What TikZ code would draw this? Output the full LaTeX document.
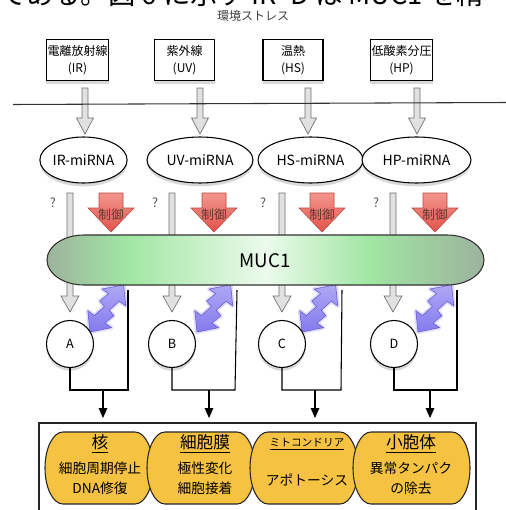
\documentclass[tikz,border=0pt]{standalone}
\usepackage{fontspec}
\setmainfont{Noto Sans CJK JP}
\usetikzlibrary{shapes.geometric,shadows,arrows.meta}
\definecolor{mgray}{RGB}{158,178,158}
\definecolor{mgreen}{RGB}{160,230,162}
\definecolor{mwhite}{RGB}{236,250,236}
\definecolor{redtop}{RGB}{242,150,140}
\definecolor{redbot}{RGB}{226,82,76}
\definecolor{redline}{RGB}{185,70,62}
\definecolor{purp}{RGB}{132,122,238}
\definecolor{purpline}{RGB}{98,88,205}
\definecolor{garrowfill}{RGB}{225,225,225}
\definecolor{garrowline}{RGB}{110,110,110}
\definecolor{capfill}{RGB}{245,194,66}
\definecolor{ctext}{RGB}{95,55,50}
\pgfdeclarehorizontalshading{mucshade}{100bp}{color(0bp)=(mgray); color(25bp)=(mgray); color(34bp)=(mgreen); color(50bp)=(mwhite); color(62bp)=(mgreen); color(75bp)=(mgray); color(100bp)=(mgray)}
% hollow gray arrow: x, y-start, y-tip, shaft width, head width, head height
\newcommand\garrow[6]{\path[garr] (#1-#4/2,#2) -- (#1-#4/2,#3-#6) -- (#1-#5/2,#3-#6) -- (#1,#3) -- (#1+#5/2,#3-#6) -- (#1+#4/2,#3-#6) -- (#1+#4/2,#2) -- cycle;}
% red control arrow: x, name
\newcommand\redarrow[2]{\path[redarr] (#1-12,193) -- (#1+12,193) -- (#1+12,208) -- (#1+23,208) -- (#1,232) -- (#1-23,208) -- (#1-12,208) -- cycle;
  \node[ctrl] (#2) at (#1,215) {制御};}
% purple zigzag double arrow: lower tip x, y
\newcommand\purpshape{(0,0) -- (16,15) -- (16,7) -- (27,10) -- (29,3) -- (42,6) -- (42,14) -- (58,0) -- (42,-15) -- (42,-7) -- (31,-10) -- (29,-3) -- (16,-6) -- (16,-14) -- cycle}
\newcommand\purparrow[2]{\begin{scope}[shift={(#1,#2)}, rotate=54.6]
  \path[draw=purp, line width=3pt, opacity=0.25, line join=round] \purpshape;
  \path[draw=purpline, line width=0.4pt, top color=purp!65!white, bottom color=purp] \purpshape;
  \end{scope}}
% yellow capsule: x1, x2
\newcommand\capsule[2]{\path[capsty] (#1+18,432) -- (#2-18,432) arc (-90:90:18 and 36) -- (#1+18,504) arc (90:270:18 and 36) -- cycle;}
\begin{document}
\begin{tikzpicture}[x=0.75pt,y=-0.75pt,
  shadowed/.style={drop shadow={shadow xshift=0pt, shadow yshift=-2.5pt, opacity=0.3}},
  stressbox/.style={draw=black, line width=0.8pt, fill=white, minimum width=45pt, minimum height=30.75pt, align=center, inner sep=1pt, font=\fontsize{9}{13}\selectfont, shadowed},
  mirna/.style={ellipse, draw=black, line width=0.8pt, fill=white, minimum height=34.5pt, inner sep=0pt, font=\fontsize{10.5}{11}\selectfont, shadowed},
  circ/.style={circle, draw=black, line width=0.8pt, fill=white, minimum size=35.25pt, inner sep=0pt, font=\fontsize{9.5}{10}\selectfont, shadowed},
  garr/.style={draw=garrowline, fill=garrowfill, line width=0.5pt},
  redarr/.style={draw=redline, line width=0.4pt, top color=redtop, bottom color=redbot},
  ctrl/.style={inner sep=0pt, text=ctext, font=\fontsize{9.5}{10}\selectfont},
  qmark/.style={inner sep=0pt, text=black!65, font=\fontsize{9.5}{10}\selectfont},
  capsty/.style={draw=black!85, line width=0.8pt, fill=capfill},
  head/.style={inner sep=0pt, font=\fontsize{12.5}{13}\selectfont},
  smallhead/.style={inner sep=0pt, font=\fontsize{8}{9}\selectfont},
  body/.style={inner sep=0pt, font=\fontsize{10.3}{11}\selectfont},
  link/.style={draw=black, line width=0.8pt},
  linkarrow/.style={draw=black, line width=0.8pt, -{Triangle[length=7.5pt,width=6.5pt]}}
]
\useasboundingbox (0,0) rectangle (506,510);
\clip (0,0) rectangle (506,510);
\fill[white] (0,0) rectangle (506,510);

% cut-off running text at the very top
\node[anchor=base west, inner sep=0pt, font=\fontsize{20.5}{21}\selectfont] (toptext) at (-1,5) {である。図 6 に示す IR–D は MUC1 を精};

\node[inner sep=0pt, text=black!75, font=\fontsize{9}{10}\selectfont] (title) at (253,16) {環境ストレス};

% stress boxes
\node[stressbox] (b1) at (77.5,60) {電離放射線\\(IR)};
\node[stressbox] (b2) at (184.5,60) {紫外線\\(UV)};
\node[stressbox] (b3) at (293,60) {温熱\\(HS)};
\node[stressbox] (b4) at (401.5,60) {低酸素分圧\\(HP)};

% hollow arrows through the membrane
\garrow{85}{88}{134}{6}{17}{16}
\garrow{200}{88}{134}{6}{17}{16}
\garrow{308}{88}{134}{6}{17}{16}
\garrow{417}{88}{134}{6}{17}{16}

\draw[black!80, line width=0.8pt] (13,104.5) -- (506,102.5);

% miRNA ellipses
\node[mirna, minimum width=63.75pt] (e1) at (83.5,160) {IR-miRNA};
\node[mirna, minimum width=79.5pt] (e2) at (200,160) {UV-miRNA};
\node[mirna, minimum width=78.75pt] (e3) at (310.5,160) {HS-miRNA};
\node[mirna, minimum width=81.75pt] (e4) at (416.5,160) {HP-miRNA};

% question marks
\node[qmark] (q1) at (53,203) {?};
\node[qmark] (q2) at (155,203) {?};
\node[qmark] (q3) at (263,203) {?};
\node[qmark] (q4) at (376,203) {?};

% long gray arrows passing behind MUC1
\garrow{70}{193}{312}{6}{18}{16}
\garrow{172}{193}{312}{6}{18}{16}
\garrow{282}{193}{312}{6}{18}{16}
\garrow{393}{193}{312}{6}{18}{16}

% purple interaction arrows
\purparrow{90}{332}
\purparrow{197}{332}
\purparrow{302}{332}
\purparrow{418}{332}

% circles and bracket lines
\node[circ] (A) at (70,344) {A};
\node[circ] (B) at (172,344) {B};
\node[circ] (C) at (282,344) {C};
\node[circ] (D) at (394,344) {D};

\coordinate (Ar) at (128,390); \coordinate (At) at (128,290);
\coordinate (Br) at (235,390); \coordinate (Bt) at (237,290);
\coordinate (Cr) at (341,390); \coordinate (Ct) at (342,290);
\coordinate (Dr) at (457,390); \coordinate (Dt) at (457,290);
\draw[link] (A.south) |- (Ar) -- (At);
\draw[link] (B.south) |- (Br) -- (Bt);
\draw[link] (C.south) |- (Cr) -- (Ct);
\draw[link] (D.south) |- (Dr) -- (Dt);

\coordinate (Aj) at (103,390); \coordinate (Ae) at (103,418);
\coordinate (Bj) at (209,390); \coordinate (Be) at (209,418);
\coordinate (Cj) at (315,390); \coordinate (Ce) at (315,418);
\coordinate (Dj) at (430,390); \coordinate (De) at (430,418);
\draw[linkarrow] (Aj) -- (Ae);
\draw[linkarrow] (Bj) -- (Be);
\draw[linkarrow] (Cj) -- (Ce);
\draw[linkarrow] (Dj) -- (De);

% red control arrows
\redarrow{111}{r1}
\redarrow{214}{r2}
\redarrow{322}{r3}
\redarrow{435}{r4}

% MUC1
\path[draw=black!80, line width=0.8pt, shading=mucshade] (84,235) -- (447,235) arc (-90:90:37 and 25) -- (84,285) arc (90:270:37 and 25) -- cycle;
\node[inner sep=0pt, font=\fontsize{14}{15}\selectfont] (muc) at (265,261) {MUC1};

% bottom organelle panel
\draw[black!85, line width=0.8pt] (39,423) rectangle (476,530);
\capsule{45}{153}
\capsule{147}{255}
\capsule{250}{358}
\capsule{353}{470}

\node[head] (h1) at (100,444) {\underline{核}};
\node[body] (t11) at (100,468) {細胞周期停止};
\node[body] (t12) at (100,488) {DNA修復};

\node[head] (h2) at (205,444) {\underline{細胞膜}};
\node[body] (t21) at (205,468) {極性変化};
\node[body] (t22) at (205,488) {細胞接着};

\node[smallhead] (h3) at (307,444) {\underline{ミトコンドリア}};
\node[body] (t31) at (307,480) {アポトーシス};

\node[head] (h4) at (411,444) {\underline{小胞体}};
\node[body] (t41) at (411,468) {異常タンパク};
\node[body] (t42) at (411,488) {の除去};
\end{tikzpicture}
\end{document}
